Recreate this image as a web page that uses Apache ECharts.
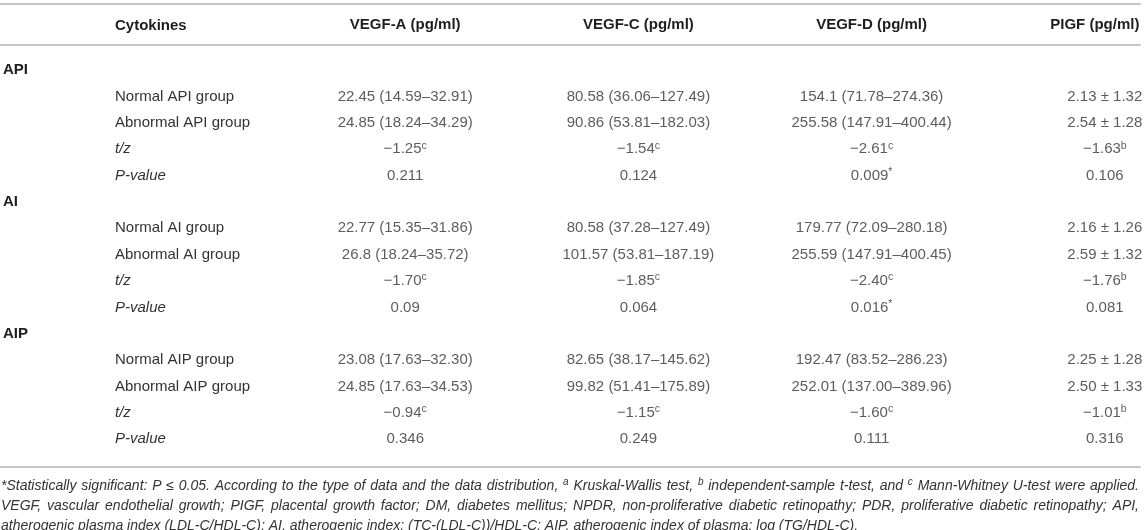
<!DOCTYPE html>
<html>
<head>
<meta charset="utf-8">
<script src="https://cdn.jsdelivr.net/npm/echarts@6/dist/echarts.min.js"></script>
<style>
html,body{margin:0;padding:0;background:#ffffff;}
#chart{width:1145px;height:530px;}
</style>
</head>
<body>
<div id="chart"></div>
<script>
// ---------- data ----------
const headers = ['VEGF-A (pg/ml)', 'VEGF-C (pg/ml)', 'VEGF-D (pg/ml)', 'PIGF (pg/ml)'];
const stubHeader = 'Cytokines';
const sectionRows = ['API', 'AI', 'AIP'];
const rowLabels = [
  'API', 'Normal API group', 'Abnormal API group', 't/z', 'P-value',
  'AI', 'Normal AI group', 'Abnormal AI group', 't/z', 'P-value',
  'AIP', 'Normal AIP group', 'Abnormal AIP group', 't/z', 'P-value'
];
// values for the non-section rows, top to bottom ("^x" = superscript)
const vegfA = ['22.45 (14.59–32.91)', '24.85 (18.24–34.29)', '−1.25^c', '0.211',
               '22.77 (15.35–31.86)', '26.8 (18.24–35.72)', '−1.70^c', '0.09',
               '23.08 (17.63–32.30)', '24.85 (17.63–34.53)', '−0.94^c', '0.346'];
const vegfC = ['80.58 (36.06–127.49)', '90.86 (53.81–182.03)', '−1.54^c', '0.124',
               '80.58 (37.28–127.49)', '101.57 (53.81–187.19)', '−1.85^c', '0.064',
               '82.65 (38.17–145.62)', '99.82 (51.41–175.89)', '−1.15^c', '0.249'];
const vegfD = ['154.1 (71.78–274.36)', '255.58 (147.91–400.44)', '−2.61^c', '0.009^*',
               '179.77 (72.09–280.18)', '255.59 (147.91–400.45)', '−2.40^c', '0.016^*',
               '192.47 (83.52–286.23)', '252.01 (137.00–389.96)', '−1.60^c', '0.111'];
const pigf  = ['2.13 ± 1.32', '2.54 ± 1.28', '−1.63^b', '0.106',
               '2.16 ± 1.26', '2.59 ± 1.32', '−1.76^b', '0.081',
               '2.25 ± 1.28', '2.50 ± 1.33', '−1.01^b', '0.316'];
const footnoteLines = [
  '*Statistically significant: P ≤ 0.05. According to the type of data and the data distribution, ^a Kruskal-Wallis test, ^b independent-sample t-test, and ^c Mann-Whitney U-test were applied.',
  'VEGF, vascular endothelial growth; PIGF, placental growth factor; DM, diabetes mellitus; NPDR, non-proliferative diabetic retinopathy; PDR, proliferative diabetic retinopathy; API,',
  'atherogenic plasma index (LDL-C/HDL-C); AI, atherogenic index: (TC-(LDL-C))/HDL-C; AIP, atherogenic index of plasma: log (TG/HDL-C).'
];
const footnoteJustify = [true, true, false];

// ---------- layout / style ----------
const W = 1145, H = 530;
const FONT = '"Liberation Sans", Arial, Helvetica, sans-serif';
const TEXT = '#333333', DARK = '#1e1e1e', RULE = '#c6c6c6';
const GRID = { left: 288.6, width: 932.8, top: 57, bottom: 77.6 };
const RULES = { top: 4, header: 45, bottom: 467 };
const LABEL_X0 = 3, LABEL_X1 = 115;
const FOOT = { left: 1, right: 1139, firstY: 486, step: 20, size: 14, supSize: 10 };

const columns = [vegfA, vegfC, vegfD, pigf];
const dataRowIdx = rowLabels.map((r, i) => i).filter(i => sectionRows.indexOf(rowLabels[i]) < 0);

const cellData = [];
columns.forEach((col, c) => {
  col.forEach((txt, k) => {
    cellData.push({ value: [c, dataRowIdx[k]], txt: txt });
  });
});

function toRich(s) {
  return s.replace(/\^(.)/g, '{sup|$1}');
}

// ---------- footnotes (justified lines) ----------
const cv = document.createElement('canvas').getContext('2d');
function measure(word, size) {
  cv.font = 'italic ' + size + 'px ' + FONT;
  return cv.measureText(word).width;
}
const footChildren = [];
footnoteLines.forEach((line, li) => {
  const y = FOOT.firstY + li * FOOT.step;
  const words = line.split(' ').map(w => {
    const sup = w.charAt(0) === '^';
    const t = sup ? w.slice(1) : w;
    const size = sup ? FOOT.supSize : FOOT.size;
    return { t: t, sup: sup, size: size, w: measure(t, size) };
  });
  const total = words.reduce((a, b) => a + b.w, 0);
  const space = footnoteJustify[li]
    ? (FOOT.right - FOOT.left - total) / (words.length - 1)
    : measure(' ', FOOT.size);
  let x = FOOT.left;
  words.forEach(wd => {
    footChildren.push({
      type: 'text',
      x: x,
      y: wd.sup ? y - 4 : y,
      silent: true,
      style: {
        text: wd.t,
        fill: TEXT,
        font: 'italic ' + wd.size + 'px ' + FONT,
        verticalAlign: 'middle',
        align: 'left'
      }
    });
    x += wd.w + space;
  });
});
footChildren.push({
  type: 'text', silent: true, x: LABEL_X1, y: (RULES.top + RULES.header) / 2 + 1,
  style: { text: stubHeader, fill: DARK, font: 'bold 15px ' + FONT, verticalAlign: 'middle' }
});

const ruleAxis = (pos, offset) => ({
  gridIndex: 1, type: 'value', min: 0, max: 1, position: pos, offset: offset,
  axisLine: { show: true, onZero: false, lineStyle: { color: RULE, width: 2 } },
  axisTick: { show: false }, axisLabel: { show: false }, splitLine: { show: false }
});

const chart = echarts.init(document.getElementById('chart'), null, { renderer: 'canvas' });
chart.setOption({
  animation: false,
  backgroundColor: '#ffffff',
  grid: [
    { left: GRID.left, width: GRID.width, top: GRID.top, bottom: GRID.bottom,
      outerBoundsMode: 'none', containLabel: false },
    { left: 0, right: W - 1140, top: RULES.top, bottom: H - RULES.bottom,
      outerBoundsMode: 'none', containLabel: false }
  ],
  xAxis: [
    {
      gridIndex: 0, type: 'category', data: headers, position: 'top',
      offset: GRID.top - RULES.header,
      axisLine: { show: false, onZero: false }, axisTick: { show: false },
      splitLine: { show: false },
      axisLabel: {
        interval: 0, margin: 13, color: DARK, fontFamily: FONT,
        fontSize: 15, fontWeight: 'bold',
        formatter: function (v, i) {
          return i === headers.length - 1 ? '{last|' + v + '}' : v;
        },
        rich: {
          last: { fontFamily: FONT, fontSize: 15, fontWeight: 'bold', color: DARK, padding: [0, 20, 0, 0] }
        }
      }
    },
    ruleAxis('top', 0),
    ruleAxis('bottom', 0),
    ruleAxis('top', RULES.top - RULES.header)
  ],
  yAxis: [
    {
      gridIndex: 0, type: 'category', data: rowLabels, inverse: true,
      axisLine: { show: false }, axisTick: { show: false }, splitLine: { show: false },
      axisLabel: {
        interval: 0, align: 'left', margin: GRID.left - LABEL_X0,
        formatter: function (v) {
          if (sectionRows.indexOf(v) >= 0) return '{s|' + v + '}';
          if (v === 't/z' || v === 'P-value') return '{i|' + v + '}';
          return '{n|' + v + '}';
        },
        rich: {
          s: { fontFamily: FONT, fontSize: 15, fontWeight: 'bold', color: DARK },
          n: { fontFamily: FONT, fontSize: 15, color: TEXT, padding: [0, 0, 0, LABEL_X1 - LABEL_X0] },
          i: { fontFamily: FONT, fontSize: 15, fontStyle: 'italic', color: TEXT, padding: [0, 0, 0, LABEL_X1 - LABEL_X0] }
        }
      }
    },
    {
      gridIndex: 1, type: 'value', show: false, min: 0, max: 1,
      splitLine: { show: false }
    }
  ],
  graphic: [{ type: 'group', silent: true, children: footChildren }],
  series: [
    {
      type: 'scatter', xAxisIndex: 0, yAxisIndex: 0, silent: true,
      symbolSize: 1, itemStyle: { color: 'rgba(0,0,0,0)' },
      data: cellData,
      label: {
        show: true, position: 'inside', color: TEXT, fontFamily: FONT, fontSize: 15,
        lineHeight: 18,
        formatter: function (p) { return toRich(p.data.txt); },
        rich: {
          sup: { fontFamily: FONT, fontSize: 10.5, lineHeight: 11, verticalAlign: 'top', color: TEXT }
        }
      },
      labelLayout: { hideOverlap: false }
    }
  ]
});
</script>
</body>
</html>
